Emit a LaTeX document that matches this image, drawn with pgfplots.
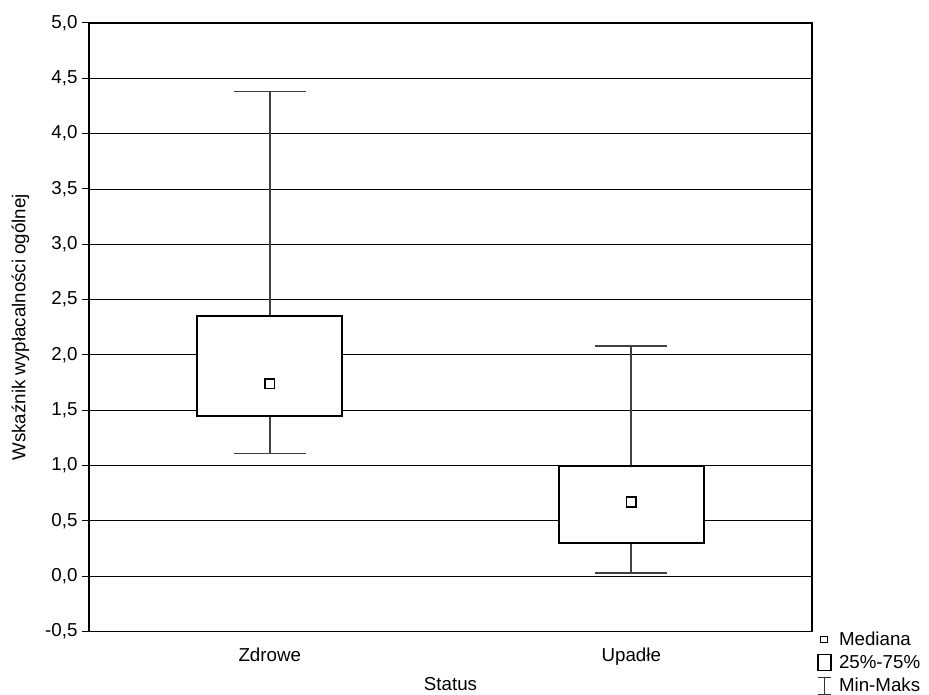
\documentclass[border=0pt]{standalone}
\usepackage{pgfplots}
\pgfplotsset{compat=1.18}
\usepgfplotslibrary{statistics}
\usepackage{fontspec}
\setmainfont{Liberation Sans}
\begin{document}
\begin{tikzpicture}
\useasboundingbox (0,0) rectangle (929bp,695bp);
\begin{axis}[
  at={(89bp,63.5bp)}, anchor=south west,
  scale only axis, width=723bp, height=608.5bp,
  xmin=-0.5, xmax=1.5, ymin=-0.5, ymax=5.0,
  xtick={0,1}, xticklabels={Zdrowe,Upadłe},
  ytick={-0.5,0,0.5,1,1.5,2,2.5,3,3.5,4,4.5,5},
  /pgf/number format/.cd, fixed, fixed zerofill, precision=1, use comma, assume math mode=true,
  /pgfplots/.cd,
  boxplot/draw direction=y,
  ymajorgrids, grid style={black, line width=0.9bp},
  axis line style={black, line width=1.2bp},
  major tick length=7bp,
  x tick style={draw=none}, xtick pos=bottom,
  y tick style={black, line width=1bp}, ytick pos=left, ytick align=outside,
  tick label style={font=\fontsize{18.8}{22}\selectfont},
  label style={font=\fontsize{18.8}{22}\selectfont},
  yticklabel style={xshift=-1bp},
  xticklabel style={yshift=-13bp},
  xlabel={Status}, ylabel={Wskaźnik wypłacalności ogólnej},
  xlabel style={yshift=-5bp},
  ylabel style={yshift=9bp},
  legend style={at={(1,0)}, anchor=north west, xshift=5bp, yshift=2bp, draw=none, fill=none,
    font=\fontsize{18.8}{22}\selectfont, inner sep=0pt, row sep=4.5bp, column sep=5bp,
    legend cell align=left},
]
\addplot[boxplot prepared={lower whisker=1.11, lower quartile=1.45, median=1.74, upper quartile=2.35, upper whisker=4.38,
   draw position=0, box extend=0.4, whisker extend=0.2,
   every box/.style={draw=black, line width=2bp, fill=white},
   every whisker/.style={draw=black!75, line width=1.6bp},
   every median/.style={draw=none}}, forget plot] coordinates {};
\addplot[boxplot prepared={lower whisker=0.03, lower quartile=0.30, median=0.67, upper quartile=1.00, upper whisker=2.08,
   draw position=1, box extend=0.4, whisker extend=0.2,
   every box/.style={draw=black, line width=2bp, fill=white},
   every whisker/.style={draw=black!75, line width=1.6bp},
   every median/.style={draw=none}}, forget plot] coordinates {};
\addplot[only marks, mark=square*, mark size=4.8bp, mark options={fill=white, draw=black, line width=1.6bp}, forget plot]
  coordinates {(0,1.74) (1,0.67)};
\addlegendimage{legend image code/.code={\draw[black, line width=1bp, fill=white] (0.10cm,-3.2bp) rectangle (0.10cm+6.4bp,3.2bp);}}
\addlegendentry{Mediana}
\addlegendimage{legend image code/.code={\draw[black, line width=1.8bp, fill=white] (0.0cm,-8bp) rectangle (0.0cm+13bp,8bp);}}
\addlegendentry{25\%-75\%}
\addlegendimage{legend image code/.code={\draw[black!80, line width=1.2bp] (0.0cm,-8.5bp) -- (13bp,-8.5bp) (0cm,8bp) -- (13bp,8bp) (6.5bp,-8.5bp) -- (6.5bp,8bp);}}
\addlegendentry{Min-Maks}
\end{axis}
\end{tikzpicture}
\end{document}
